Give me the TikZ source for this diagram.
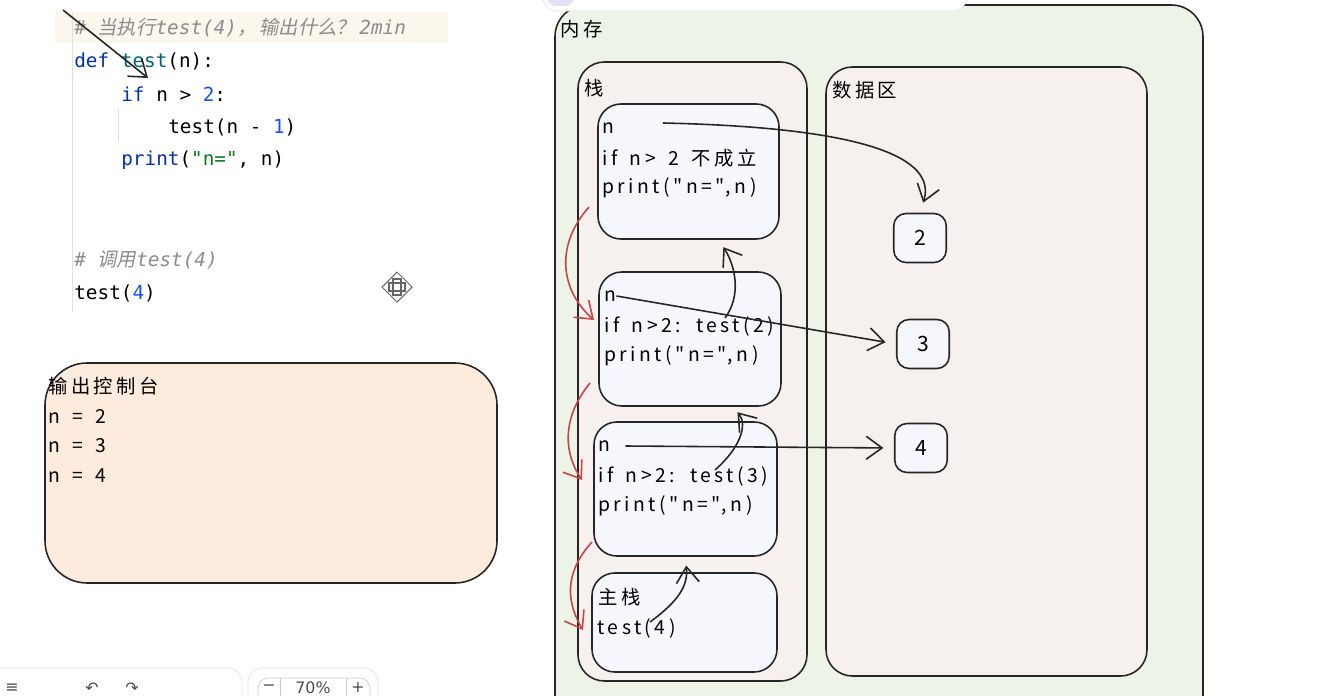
\documentclass[tikz,border=0pt]{standalone}
\usepackage{fontspec}
\usetikzlibrary{arrows.meta,fit,calc}
\setmainfont{DejaVu Sans}
\newfontfamily\cjk{Noto Sans CJK SC}
\newfontfamily\cjkit{Noto Sans CJK SC}[FakeSlant=0.2]
\newfontfamily\codefont{DejaVu Sans Mono}
\newfontfamily\hand{Noto Sans CJK SC}[LetterSpace=18,WordSpace=1.6]

\definecolor{codebg}{HTML}{FBF7EC}
\definecolor{memgreen}{HTML}{EDF3E6}
\definecolor{stackfill}{HTML}{F6F0EF}
\definecolor{framefill}{HTML}{F5F7FC}
\definecolor{consolefill}{HTML}{FDEBDD}
\definecolor{kwblue}{HTML}{0033B3}
\definecolor{numblue}{HTML}{1750EB}
\definecolor{fnteal}{HTML}{00627A}
\definecolor{strgreen}{HTML}{067D17}
\definecolor{cmtgray}{HTML}{8C8C8C}
\definecolor{redline}{HTML}{C94444}
\definecolor{lav}{HTML}{E3E0F8}

\tikzset{
  codetxt/.style={anchor=west,inner sep=0pt,font=\codefont\fontsize{11}{13}\selectfont},
  handtxt/.style={anchor=west,inner sep=0pt,font=\hand\fontsize{11}{13}\selectfont},
  areabox/.style={draw=black!85,line width=0.9pt,inner sep=0pt},
  framebox/.style={areabox,rounded corners=13pt,fill=framefill},
  databox/.style={draw=black!85,line width=0.9pt,rounded corners=7pt,fill=framefill,
    minimum width=1.05cm,minimum height=0.98cm,font=\hand\fontsize{12}{14}\selectfont},
  link/.style={->,draw=black!85,line width=0.9pt},
  redlink/.style={->,draw=redline,line width=0.9pt},
  tooltxt/.style={inner sep=0pt,text=black!70,font=\fontsize{9}{11}\selectfont}
}

\begin{document}
\begin{tikzpicture}[x=0.02cm,y=-0.02cm,>={Straight Barb[length=9pt,width=13pt]}]
\useasboundingbox (0,0) rectangle (1322,696);
\clip (0,0) rectangle (1322,696);

% code pane
\fill[codebg] (55,12) rectangle (448,43);
\draw[black!12] (72,12) -- (72,312);
\draw[black!12] (118,108) -- (118,142);
\node[codetxt,text=cmtgray] (cmt1) at (74,28) {\itshape\#\ {\cjkit 当执行}test(4){\cjkit ，}\,{\cjkit 输出什么？}\,2min};
\node[codetxt] (def) at (74,61) {\textcolor{kwblue}{def} \textcolor{fnteal}{test}(n):};
\node[codetxt] (iff) at (121,94) {\textcolor{kwblue}{if} n > \textcolor{numblue}{2}:};
\node[codetxt] (rec) at (168,127) {test(n - \textcolor{numblue}{1})};
\node[codetxt] (prt) at (121,160) {\textcolor{kwblue}{print}(\textcolor{strgreen}{"n="}, n)};
\node[codetxt,text=cmtgray] (cmt2) at (74,260) {\itshape\#\ {\cjkit 调用}test(4)};
\node[codetxt] (call) at (74,293) {test(\textcolor{numblue}{4})};
\coordinate (pa) at (63,10);
\coordinate (pb) at (148,78);
\draw[link] (pa) -- (pb);

% move cursor
\draw[black!60,line width=0.6pt] (397,272) -- (412,287) -- (397,302) -- (382,287) -- cycle;
\draw[black!60,line width=0.6pt] (393,279) rectangle (401,295) (389,283) rectangle (405,291);

% console
\node[areabox,rounded corners=24pt,fill=consolefill,fit={(45,363) (497,583)}] (console) {};
\node[handtxt] (ctitle) at (48,386) {输出控制台};
\node[handtxt] (out2) at (48,416) {n = 2};
\node[handtxt] (out3) at (48,446) {n = 3};
\node[handtxt] (out4) at (48,476) {n = 4};

% memory
\node[areabox,rounded corners=18pt,fill=memgreen,fit={(555,5) (1203,730)}] (mem) {};
\node[handtxt] (memlbl) at (560,29) {内存};
\node[areabox,rounded corners=15pt,fill=stackfill,fit={(578,62) (807,681)}] (stack) {};
\node[handtxt] (stacklbl) at (584,88) {栈};
\node[areabox,rounded corners=15pt,fill=stackfill,fit={(826,67) (1147,676)}] (data) {};
\node[handtxt] (datalbl) at (832,90) {数据区};

% popup and toolbars
\draw[black!10,fill=white,rounded corners=8pt] (543,-20) rectangle (967,11);
\fill[lav,rounded corners=5pt] (547,-20) rectangle (574,6);
\draw[black!10,fill=white,rounded corners=8pt] (-10,668) rectangle (242,720);
\draw[black!10,fill=white,rounded corners=8pt] (248,668) rectangle (378,720);
\draw[black!20,rounded corners=6pt] (258,678) rectangle (370,720);
\draw[black!20] (280,678) -- (280,720) (346,678) -- (346,720);
\node[tooltxt] (menu) at (12,688) {≡};
\node[tooltxt] (undo) at (92,688) {↶};
\node[tooltxt] (redo) at (132,688) {↷};
\node[tooltxt] (minus) at (269,688) {−};
\node[tooltxt] (zoom) at (313,688) {70\%};
\node[tooltxt] (plus) at (358,688) {+};

% stack frames
\node[framebox,fit={(598,104) (779,239)}] (f1) {};
\node[handtxt] (n1) at (602,128) {n};
\node[handtxt] (c1) at (602,158) {if n> 2 不成立};
\node[handtxt] (p1) at (602,188) {print("n=",n)};
\node[framebox,fit={(599,272) (781,406)}] (f2) {};
\node[handtxt] (n2) at (604,296) {n};
\node[handtxt] (c2) at (604,326) {if n>2: test(2)};
\node[handtxt] (p2) at (604,356) {print("n=",n)};
\node[framebox,fit={(594,422) (777,556)}] (f3) {};
\node[handtxt] (n3) at (598,446) {n};
\node[handtxt] (c3) at (598,476) {if n>2: test(3)};
\node[handtxt] (p3) at (598,506) {print("n=",n)};
\node[framebox,fit={(592,573) (777,672)}] (f4) {};
\node[handtxt] (mainlbl) at (598,597) {主栈};
\node[handtxt] (m1) at (597,628) {test(4)};

% data values
\node[databox] (d2) at (920,238) {2};
\node[databox] (d3) at (923,344) {3};
\node[databox] (d4) at (921,448) {4};

% references
\coordinate (r1) at (663,123);
\draw[link,shorten >=6pt] (r1) .. controls (890,128) and (935,165) .. (d2.north);
\draw[link,shorten >=6pt] (n2.east) -- (d3.west);
\draw[link,shorten >=6pt] ([xshift=0.3cm]n3.east) -- (d4.west);

% calls
\coordinate (t4) at (650,622);
\coordinate (t3) at (715,470);
\coordinate (t2) at (725,318);
\draw[link,shorten >=5pt] (t4) .. controls (680,600) and (688,585) .. (f3.south);
\draw[link,shorten >=4pt] (t3) .. controls (740,448) and (748,425) .. ([xshift=0.86cm]f2.south);
\draw[link,shorten >=5pt] (t2) .. controls (742,295) and (735,265) .. ([xshift=0.6cm]f1.south);

% call order
\coordinate (s1) at (589,207);
\coordinate (e1) at (594,320);
\coordinate (s2) at (590,383);
\coordinate (e2) at (582,480);
\coordinate (s3) at (592,542);
\coordinate (e3) at (583,630);
\draw[redlink] (s1) .. controls (555,245) and (560,290) .. (e1);
\draw[redlink] (s2) .. controls (560,420) and (565,455) .. (e2);
\draw[redlink] (s3) .. controls (562,575) and (568,605) .. (e3);
\end{tikzpicture}
\end{document}
